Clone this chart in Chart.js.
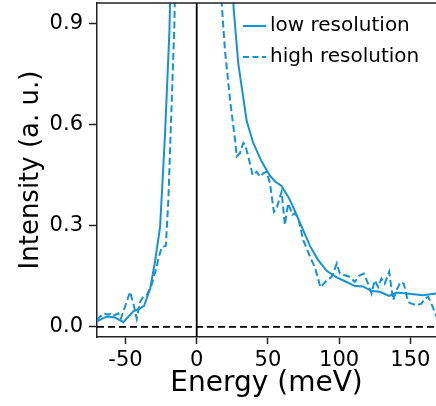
<!DOCTYPE html>
<html>
<head>
<meta charset="utf-8">
<script src="https://cdn.jsdelivr.net/npm/chart.js@4.4.1/dist/chart.umd.min.js"></script>
<style>
  html, body { margin: 0; padding: 0; background: #fff; }
  #wrap { width: 436px; height: 406px; }
</style>
</head>
<body>
<div id="wrap"><canvas id="chart" width="436" height="406"></canvas></div>
<script>
// low resolution spectrum (solid)
const lowEnergy = [-70, -63, -57.5, -51.5, -44.5, -40, -37, -32.7, -29.2, -25.7, -22.2, -19.2, -15, -10, -5, 0,
    5, 10, 15, 20, 23, 26, 29.2, 35.1, 39.7, 45.6, 51.4, 55, 59.6, 64.2, 66.6, 72.4, 79.5, 85.3, 91.2,
    98.2, 105.2, 111, 116.8, 122.7, 128.5, 135.1, 140.3, 147.3, 158.9, 168];
const lowIntensity = [0.016, 0.031, 0.028, 0.014, 0.046, 0.054, 0.062, 0.113, 0.195, 0.297, 0.574, 0.872, 1.6, 2.8, 3.6, 4.0,
    3.6, 2.8, 2.0, 1.45, 1.2, 0.94, 0.78, 0.61, 0.545, 0.49, 0.448, 0.431, 0.418, 0.386, 0.366, 0.31, 0.24, 0.198, 0.166,
    0.147, 0.133, 0.121, 0.12, 0.106, 0.104, 0.092, 0.102, 0.099, 0.094, 0.099];

// high resolution spectrum (dashed)
const highEnergy = [-70, -68, -65.5, -62, -60, -58.4, -55, -53.3, -50.3, -46.8, -44.4, -42.1, -39.7, -37.4, -35.1, -31.6,
    -28.1, -26.9, -24.5, -21.7, -19.9, -17.5, -15.7, -13, -8, 0, 8, 13, 17.5, 19.8, 23.4, 26.9, 28.1, 30.4, 32.7, 34,
    36.2, 39.3, 42.1, 44.4, 46.7, 49.1, 51.4, 54.2, 56.1, 59.6, 61.9, 64.2, 67.3, 68.9, 71.3, 74.8, 80.6, 82.9, 86.9,
    91.2, 94.7, 98.4, 100.5, 104, 107.5, 111, 114.5, 117.3, 120.3, 122.7, 125, 127.4, 129.7, 132, 135.1, 137.9, 140.3,
    143.1, 145.4, 148.4, 150.8, 154.3, 157.8, 160.1, 162.5, 164.8, 167.1, 168.5];
const highIntensity = [0.019, 0.03, 0.04, 0.036, 0.04, 0.033, 0.04, 0.024, 0.06, 0.104, 0.069, 0.024, 0.075, 0.09, 0.094, 0.125,
    0.178, 0.203, 0.237, 0.24, 0.376, 0.673, 0.891, 1.6, 3.5, 6.0, 3.5, 1.6, 0.961, 0.822, 0.673, 0.555, 0.505, 0.515, 0.545, 0.54,
    0.505, 0.45, 0.46, 0.445, 0.455, 0.46, 0.426, 0.341, 0.351, 0.401, 0.302, 0.366, 0.332, 0.337, 0.322, 0.257, 0.198, 0.178, 0.117,
    0.138, 0.148, 0.188, 0.158, 0.153, 0.148, 0.133, 0.153, 0.158, 0.128, 0.099, 0.138, 0.118, 0.143, 0.128, 0.163, 0.079, 0.109,
    0.133, 0.128, 0.074, 0.069, 0.064, 0.069, 0.084, 0.089, 0.069, 0.044, 0.03];

const seriesLabels = ["low resolution", "high resolution"];
const xTicks = [-50, 0, 50, 100, 150];
const yTicks = [0.0, 0.3, 0.6, 0.9];
const xRange = [-70, 168];
const yRange = [-0.03, 0.96];

const blue = "#1592d3";
const fontFamily = "'DejaVu Sans', sans-serif";

const toPoints = (xs, ys) => xs.map((x, i) => ({ x: x, y: ys[i] }));

// legend drawn inside the plot, top right
const insideLegend = {
    id: "insideLegend",
    afterDraw(chart) {
        const { ctx, chartArea } = chart;
        ctx.save();
        ctx.font = "20px " + fontFamily;
        ctx.textBaseline = "middle";
        ctx.fillStyle = "#000";
        seriesLabels.forEach((label, i) => {
            const ds = chart.data.datasets[i];
            const y = chartArea.top + 23 + i * 31;
            const x0 = chartArea.right - 193;
            ctx.strokeStyle = ds.borderColor;
            ctx.lineWidth = ds.borderWidth;
            ctx.setLineDash(ds.borderDash ? [6, 3.5] : []);
            ctx.beginPath();
            ctx.moveTo(x0, y);
            ctx.lineTo(x0 + 23, y);
            ctx.stroke();
            ctx.fillText(label, x0 + 27, y);
        });
        ctx.restore();
    }
};

// top edge of the frame
const topFrame = {
    id: "topFrame",
    afterDatasetsDraw(chart) {
        const { ctx, chartArea } = chart;
        ctx.save();
        ctx.strokeStyle = "#222";
        ctx.lineWidth = 1.5;
        ctx.beginPath();
        ctx.moveTo(chartArea.left, chartArea.top);
        ctx.lineTo(chartArea.right, chartArea.top);
        ctx.stroke();
        ctx.restore();
    }
};

new Chart(document.getElementById("chart"), {
    type: "line",
    data: {
        datasets: [
            {
                label: seriesLabels[0],
                data: toPoints(lowEnergy, lowIntensity),
                borderColor: blue,
                borderWidth: 2,
                pointRadius: 0,
                fill: false,
                tension: 0,
                clip: 0,
            },
            {
                label: seriesLabels[1],
                data: toPoints(highEnergy, highIntensity),
                borderColor: blue,
                borderWidth: 2,
                borderDash: [7, 3.5],
                pointRadius: 0,
                fill: false,
                tension: 0,
                clip: 0,
            },
            {
                label: "zero",
                data: [{ x: xRange[0], y: 0 }, { x: xRange[1], y: 0 }],
                borderColor: "#000",
                borderWidth: 1.8,
                borderDash: [7, 4],
                pointRadius: 0,
                clip: 0,
            },
            {
                label: "elastic",
                data: [{ x: 0, y: yRange[0] }, { x: 0, y: yRange[1] }],
                borderColor: "#000",
                borderWidth: 1.8,
                pointRadius: 0,
                clip: 0,
            },
        ],
    },
    options: {
        responsive: false,
        devicePixelRatio: 1,
        animation: false,
        layout: { padding: { top: 3, right: 0, bottom: 0, left: 0 } },
        plugins: {
            legend: { display: false },
            tooltip: { enabled: false },
        },
        scales: {
            x: {
                type: "linear",
                min: xRange[0],
                max: xRange[1],
                afterBuildTicks: (scale) => { scale.ticks = xTicks.map(v => ({ value: v })); },
                afterFit: (scale) => {
                    scale.height = 69;
                    scale.paddingLeft = 0;
                    scale.paddingRight = 0;
                },
                grid: { drawOnChartArea: false, drawTicks: true, tickLength: 7, tickColor: "#222", tickWidth: 1.5 },
                border: { display: true, color: "#222", width: 1.5 },
                ticks: {
                    font: { family: fontFamily, size: 21 },
                    color: "#000",
                    padding: 4,
                    maxRotation: 0,
                    callback: (v) => String(v),
                },
                title: {
                    display: true,
                    text: "Energy (meV)",
                    font: { family: fontFamily, size: 28 },
                    color: "#000",
                    padding: { top: 0, bottom: 5 },
                },
            },
            y: {
                type: "linear",
                min: yRange[0],
                max: yRange[1],
                afterBuildTicks: (scale) => { scale.ticks = yTicks.map(v => ({ value: v })); },
                afterFit: (scale) => {
                    scale.width = 97;
                    scale.paddingTop = 0;
                    scale.paddingBottom = 0;
                },
                grid: { drawOnChartArea: false, drawTicks: true, tickLength: 8, tickColor: "#222", tickWidth: 1.5 },
                border: { display: true, color: "#222", width: 1.5 },
                ticks: {
                    font: { family: fontFamily, size: 21 },
                    color: "#000",
                    padding: 6,
                    callback: (v) => v.toFixed(1),
                },
                title: {
                    display: true,
                    text: "Intensity (a. u.)",
                    font: { family: fontFamily, size: 26 },
                    color: "#000",
                    padding: { top: 16, bottom: 0 },
                },
            },
        },
    },
    plugins: [insideLegend, topFrame],
});
</script>
</body>
</html>
